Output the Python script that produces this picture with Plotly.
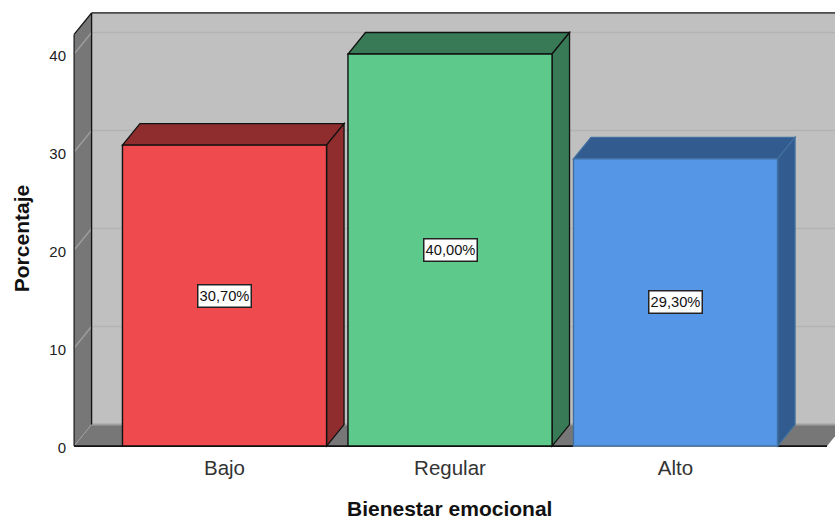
import plotly.graph_objects as go

# Chart data
categories = ["Bajo", "Regular", "Alto"]
percentages = [30.7, 40.0, 29.3]
labels = ["30,70%", "40,00%", "29,30%"]
y_ticks = [0, 10, 20, 30, 40]

# Bar colours: front face, shaded faces, outline
front_colors = ["#EF4B4E", "#5DCA8B", "#5596E6"]
shade_colors = ["#8F2D2E", "#387A55", "#325C90"]
edge_colors = ["#111111", "#111111", "#41709F"]

# Extruded box geometry in axis units
BAR_WIDTH = 0.905
DEPTH_X = 0.0776
DEPTH_Y = 2.19
WALL_TOP = 42.0
FLOOR_LEFT = -0.667
FLOOR_RIGHT = 2.672
WALL_COLOR = "#C0C0C0"
FRAME_COLOR = "#777777"


def polygon(points, fill, line_color=None, line_width=1.0):
    path = "M " + " L ".join(f"{x} {y}" for x, y in points) + " Z"
    return dict(type="path", path=path, xref="x", yref="y", layer="below",
                fillcolor=fill,
                line=dict(color=line_color or fill, width=line_width if line_color else 0))


def segment(x0, y0, x1, y1, color, width):
    return dict(type="line", x0=x0, y0=y0, x1=x1, y1=y1, xref="x", yref="y",
                layer="below", line=dict(color=color, width=width))


back_left = FLOOR_LEFT + DEPTH_X
back_right = FLOOR_RIGHT + DEPTH_X
back_top = WALL_TOP + DEPTH_Y

shapes = [
    # back wall, left wall, floor
    polygon([(back_left, DEPTH_Y), (back_right, DEPTH_Y), (back_right, back_top), (back_left, back_top)], WALL_COLOR),
    polygon([(FLOOR_LEFT, 0), (back_left, DEPTH_Y), (back_left, back_top), (FLOOR_LEFT, WALL_TOP)], FRAME_COLOR),
    polygon([(FLOOR_LEFT, 0), (FLOOR_RIGHT, 0), (back_right, DEPTH_Y), (back_left, DEPTH_Y)], FRAME_COLOR),
]

# Gridlines run along the back wall and fold down the left wall
for tick in y_ticks[1:]:
    shapes.append(segment(back_left, tick + DEPTH_Y, back_right, tick + DEPTH_Y, "#B3B3B3", 1.5))
    shapes.append(segment(FLOOR_LEFT, tick, back_left, tick + DEPTH_Y, "#9C9C9C", 1.5))

# Wall edges
shapes += [
    segment(back_left, DEPTH_Y, back_right, DEPTH_Y, "#A0A0A0", 2),
    segment(FLOOR_LEFT, 0, back_left, DEPTH_Y, "#9C9C9C", 1),
    segment(back_left, DEPTH_Y, back_left, back_top, "#111111", 1.3),
    segment(back_left, back_top, back_right, back_top, "#111111", 1.3),
    segment(FLOOR_LEFT, WALL_TOP, back_left, back_top, "#111111", 1.3),
    segment(FLOOR_LEFT, 0, FLOOR_LEFT, WALL_TOP, "#222222", 1.3),
    segment(FLOOR_LEFT, 0, FLOOR_RIGHT, 0, "#111111", 1.8),
]

# Top and right faces of each bar
for i, value in enumerate(percentages):
    left, right = i - BAR_WIDTH / 2, i + BAR_WIDTH / 2
    shapes.append(polygon(
        [(left, value), (right, value), (right + DEPTH_X, value + DEPTH_Y), (left + DEPTH_X, value + DEPTH_Y)],
        shade_colors[i], edge_colors[i], 1.3))
    shapes.append(polygon(
        [(right, 0), (right + DEPTH_X, DEPTH_Y), (right + DEPTH_X, value + DEPTH_Y), (right, value)],
        shade_colors[i], edge_colors[i], 1.3))

# Gray base line beneath the blue bar
shapes.append(segment(2 - BAR_WIDTH / 2, 0, 2 + BAR_WIDTH / 2, 0, "#A8A8A8", 1.8))

fig = go.Figure(go.Bar(
    x=list(range(len(categories))),
    y=percentages,
    width=BAR_WIDTH,
    marker=dict(color=front_colors, line=dict(color=edge_colors, width=1.4)),
    cliponaxis=False,
    hoverinfo="skip",
))

annotations = [
    dict(x=i, y=value / 2, xref="x", yref="y", text=text, showarrow=False,
         width=52, height=21, bgcolor="white", bordercolor="#222222", borderwidth=1.5, borderpad=0,
         font=dict(family="Liberation Sans", size=14.7, color="#111111"))
    for i, (value, text) in enumerate(zip(percentages, labels))
]

# Axis titles are placed in window pixels, converted to paper fractions
PLOT_L, PLOT_R, PLOT_T, PLOT_B = 72, 835, 11, 448.5
annotations += [
    dict(x=(449.5 - PLOT_L) / (PLOT_R - PLOT_L), y=(PLOT_B - 509.5) / (PLOT_B - PLOT_T),
         text="<b>Bienestar emocional</b>", showarrow=False, xanchor="center", yanchor="middle",
         xref="paper", yref="paper", font=dict(family="Liberation Sans", size=21, color="#111111")),
    dict(x=(21 - PLOT_L) / (PLOT_R - PLOT_L), y=(PLOT_B - 239.5) / (PLOT_B - PLOT_T),
         text="<b>Porcentaje</b>", showarrow=False, textangle=-90, xanchor="center", yanchor="middle",
         xref="paper", yref="paper", font=dict(family="Liberation Sans", size=21, color="#111111")),
]

fig.update_layout(
    width=835,
    height=519,
    margin=dict(l=PLOT_L, r=835 - PLOT_R, t=PLOT_T, b=519 - PLOT_B, pad=0),
    paper_bgcolor="white",
    plot_bgcolor="white",
    showlegend=False,
    shapes=shapes,
    annotations=annotations,
    xaxis=dict(
        range=[-0.6763, 2.7073], tickvals=list(range(len(categories))), ticktext=categories,
        showgrid=False, zeroline=False, showline=False, ticks="", ticklabelstandoff=5,
        tickfont=dict(family="Liberation Sans", size=20.5, color="#333333"),
    ),
    yaxis=dict(
        range=[-0.2, 44.386], tickvals=y_ticks, showgrid=False, zeroline=False, showline=False,
        ticks="", ticklabelstandoff=5, ticklabelshift=2,
        tickfont=dict(family="Liberation Sans", size=15, color="#222222"),
    ),
)

fig.write_html("out.html", config=dict(displayModeBar=False))
